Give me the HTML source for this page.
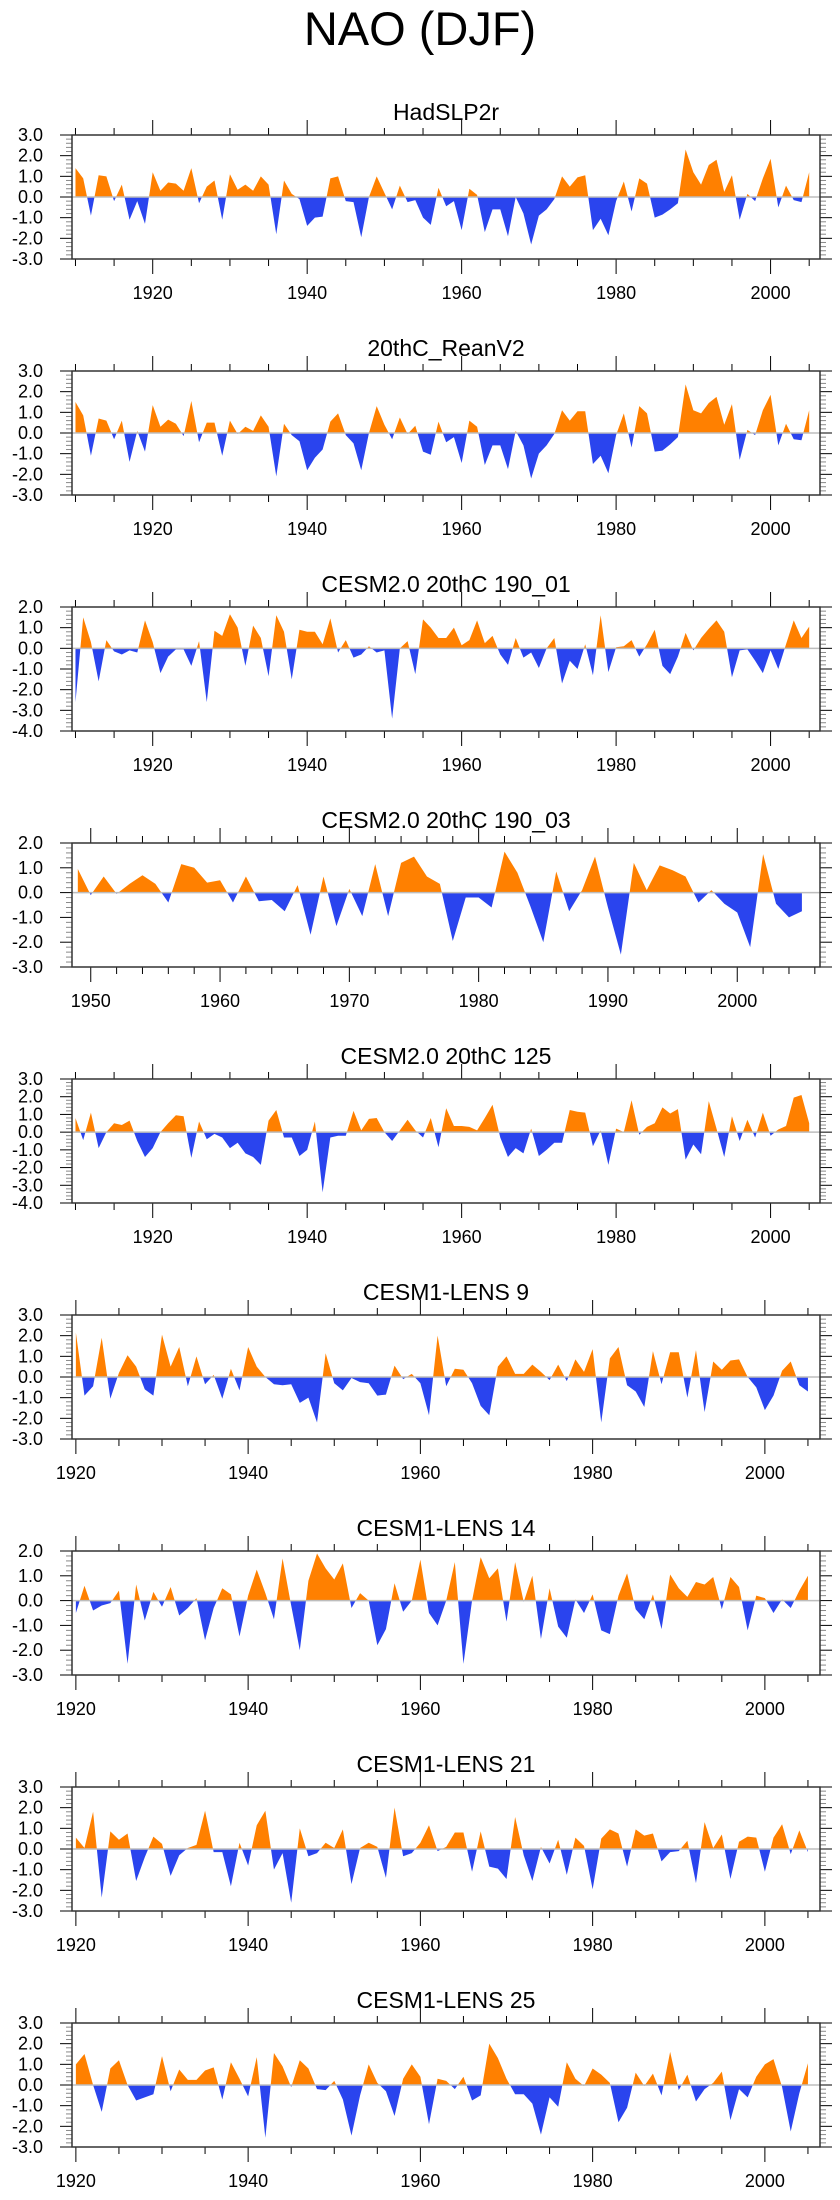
<!DOCTYPE html>
<html><head><meta charset="utf-8"><style>
html,body{margin:0;padding:0;background:#fff;}
svg{display:block;font-family:"Liberation Sans",sans-serif;}
</style></head><body>
<svg id="chart" width="840" height="2200" viewBox="0 0 840 2200" xmlns="http://www.w3.org/2000/svg">
<text x="420" y="45" font-size="47" text-anchor="middle" fill="#000">NAO (DJF)</text>
</svg>
<script>
const panelTitles = ["HadSLP2r","20thC_ReanV2","CESM2.0 20thC 190_01","CESM2.0 20thC 190_03","CESM2.0 20thC 125","CESM1-LENS 9","CESM1-LENS 14","CESM1-LENS 21","CESM1-LENS 25"];
const startYears = [1910,1910,1910,1949,1910,1920,1920,1920,1920];
const yMins = [-3,-3,-4,-3,-4,-3,-3,-3,-3];
const yMaxs = [3,3,2,2,3,3,2,3,3];
const s1 = [1.4,0.9,-0.9,1.05,1.0,-0.2,0.6,-1.1,-0.2,-1.3,1.2,0.3,0.7,0.65,0.3,1.4,-0.3,0.5,0.8,-1.1,1.1,0.35,0.6,0.3,1.0,0.6,-1.8,0.8,0.15,-0.1,-1.4,-1.0,-0.95,0.9,1.0,-0.2,-0.25,-1.95,0.0,1.0,0.2,-0.6,0.55,-0.25,-0.15,-1.0,-1.35,0.45,-0.45,-0.2,-1.6,0.4,0.1,-1.7,-0.6,-0.6,-1.9,0.0,-0.8,-2.3,-0.9,-0.6,-0.1,1.0,0.5,0.95,1.05,-1.6,-1.05,-1.85,-0.2,0.75,-0.7,0.9,0.65,-1.0,-0.85,-0.6,-0.3,2.3,1.2,0.6,1.55,1.8,0.25,1.05,-1.1,0.15,-0.2,0.9,1.85,-0.5,0.55,-0.15,-0.25,1.2];
const s2 = [1.5,0.85,-1.1,0.7,0.6,-0.3,0.6,-1.4,0.1,-0.9,1.35,0.3,0.65,0.45,-0.15,1.55,-0.45,0.5,0.5,-1.1,0.6,-0.05,0.3,0.1,0.85,0.3,-2.1,0.45,-0.1,-0.4,-1.8,-1.2,-0.8,0.55,0.95,-0.1,-0.5,-1.8,0.0,1.3,0.4,-0.3,0.75,-0.05,0.35,-0.9,-1.05,0.55,-0.45,-0.2,-1.45,0.6,0.3,-1.55,-0.6,-0.6,-1.75,0.1,-0.6,-2.2,-1.0,-0.6,-0.05,1.1,0.6,1.05,1.05,-1.5,-1.1,-1.95,-0.1,0.95,-0.7,1.3,0.95,-0.9,-0.85,-0.55,-0.2,2.35,1.1,0.95,1.45,1.75,0.4,1.4,-1.3,0.15,-0.1,1.1,1.85,-0.6,0.45,-0.3,-0.35,1.1];
const s3 = [-2.6,1.5,0.3,-1.6,0.4,-0.15,-0.3,-0.1,-0.2,1.35,0.3,-1.2,-0.4,-0.05,-0.05,-0.85,0.35,-2.6,0.85,0.6,1.65,1.0,-0.85,1.1,0.5,-1.35,1.6,0.8,-1.5,0.9,0.8,0.8,0.2,1.45,-0.2,0.4,-0.45,-0.3,0.1,-0.2,-0.1,-3.4,0.0,0.35,-1.25,1.4,1.0,0.5,0.5,1.0,0.15,0.4,1.35,0.25,0.6,-0.3,-0.8,0.5,-0.45,-0.2,-0.95,0.0,0.5,-1.7,-0.6,-1.0,0.2,-1.3,1.6,-1.15,0.05,0.1,0.4,-0.4,0.2,0.9,-0.85,-1.25,-0.4,0.75,-0.1,0.5,0.95,1.35,0.8,-1.4,-0.1,-0.05,-0.6,-1.2,-0.1,-1.0,0.2,1.35,0.5,1.05];
const s4 = [0.95,-0.1,0.65,-0.05,0.35,0.7,0.35,-0.4,1.15,1.0,0.4,0.5,-0.4,0.65,-0.35,-0.3,-0.75,0.3,-1.7,0.65,-1.35,0.15,-0.95,1.15,-0.95,1.2,1.45,0.65,0.35,-1.95,-0.2,-0.2,-0.6,1.65,0.8,-0.55,-2.0,0.85,-0.75,0.1,1.45,-0.6,-2.5,1.2,0.1,1.1,0.9,0.65,-0.4,0.1,-0.45,-0.8,-2.2,1.55,-0.45,-1.0,-0.75];
const s5 = [0.8,-0.45,1.1,-0.9,0.0,0.5,0.4,0.65,-0.5,-1.4,-0.9,0.0,0.5,0.95,0.9,-1.45,0.6,-0.4,-0.1,-0.3,-0.9,-0.6,-1.2,-1.4,-1.85,0.65,1.25,-0.3,-0.3,-1.35,-1.0,0.6,-3.4,-0.3,-0.2,-0.2,1.2,0.1,0.75,0.8,0.0,-0.5,0.1,0.7,0.1,-0.3,0.8,-0.85,1.35,0.35,0.35,0.3,0.1,0.8,1.55,-0.3,-1.4,-0.9,-1.2,0.2,-1.35,-1.0,-0.6,-0.6,1.25,1.15,1.1,-0.8,0.1,-1.85,0.2,0.0,1.8,-0.15,0.3,0.5,1.4,1.05,1.3,-1.55,-0.7,-1.25,1.75,0.2,-1.4,0.9,-0.5,0.7,-0.3,1.1,-0.2,0.15,0.35,1.95,2.1,0.5];
const s6 = [2.15,-0.9,-0.45,1.9,-1.05,0.2,1.05,0.5,-0.6,-0.9,2.05,0.5,1.45,-0.45,1.0,-0.35,0.1,-1.05,0.4,-0.65,1.45,0.5,0.0,-0.35,-0.4,-0.35,-1.25,-1.0,-2.2,1.15,-0.3,-0.65,-0.05,-0.25,-0.3,-0.9,-0.85,0.55,-0.1,0.15,-0.3,-1.85,2.0,-0.45,0.4,0.35,-0.3,-1.4,-1.85,0.5,1.0,0.15,0.15,0.6,0.25,-0.15,0.6,-0.2,0.85,0.25,1.35,-2.2,0.9,1.45,-0.4,-0.7,-1.45,1.25,-0.35,1.2,1.2,-1.0,1.3,-1.7,0.75,0.35,0.8,0.85,0.0,-0.5,-1.6,-0.9,0.3,0.75,-0.4,-0.7];
const s7 = [-0.5,0.6,-0.4,-0.2,-0.1,0.4,-2.55,0.65,-0.8,0.35,-0.25,0.55,-0.6,-0.3,0.1,-1.6,-0.3,0.5,0.25,-1.45,0.2,1.25,0.3,-0.75,1.7,-0.2,-2.0,0.8,1.9,1.3,0.85,1.5,-0.3,0.3,0.0,-1.8,-1.15,0.7,-0.45,0.0,1.65,-0.5,-1.0,0.0,1.55,-2.55,0.0,1.75,0.9,1.3,-0.85,1.55,-0.05,1.0,-1.55,0.5,-1.05,-1.5,0.05,-0.5,0.25,-1.2,-1.35,0.2,1.1,-0.35,-0.75,0.25,-1.15,1.05,0.5,0.15,0.75,0.65,0.95,-0.35,0.95,0.55,-1.2,0.2,0.1,-0.5,0.05,-0.3,0.4,1.0];
const s8 = [0.55,0.05,1.8,-2.35,0.85,0.45,0.75,-1.55,-0.4,0.6,0.25,-1.3,-0.3,0.05,0.2,1.85,-0.15,-0.15,-1.8,0.3,-0.8,1.15,1.85,-1.0,-0.2,-2.6,1.0,-0.35,-0.2,0.3,0.05,0.95,-1.7,0.05,0.3,0.1,-1.4,2.0,-0.35,-0.2,0.3,1.15,-0.1,0.1,0.8,0.8,-1.1,0.85,-0.85,-0.95,-1.45,1.55,-0.3,-1.55,0.1,-0.7,0.45,-1.25,0.55,0.15,-1.95,0.5,0.95,0.75,-0.85,0.95,0.65,0.75,-0.6,-0.15,-0.1,0.4,-1.65,1.3,0.05,0.7,-1.45,0.35,0.6,0.55,-1.1,0.55,1.2,-0.25,0.9,-0.15];
const s9 = [1.0,1.5,0.0,-1.3,0.8,1.2,0.0,-0.75,-0.6,-0.45,1.4,-0.3,0.75,0.25,0.25,0.7,0.85,-0.7,1.1,0.3,-0.55,1.35,-2.55,1.55,0.9,-0.1,1.2,0.8,-0.2,-0.25,0.2,-0.7,-2.45,-0.5,1.0,0.1,-0.3,-1.5,0.3,1.0,0.4,-1.9,0.3,0.2,-0.2,0.4,-0.75,-0.5,2.0,1.3,0.3,-0.45,-0.45,-0.9,-2.4,-0.6,-1.05,1.1,0.3,-0.05,0.8,0.5,0.1,-1.8,-1.1,0.6,-0.05,0.55,-0.5,1.6,-0.25,0.5,-0.8,-0.2,0.1,0.65,-1.7,-0.2,-0.6,0.4,1.0,1.25,-0.1,-2.25,-0.4,1.05];
const series = [s1,s2,s3,s4,s5,s6,s7,s8,s9];

const NS = "http://www.w3.org/2000/svg";
const svg = document.getElementById("chart");
function mk(tag, attrs, parent){ const e=document.createElementNS(NS,tag); for(const k in attrs) e.setAttribute(k,attrs[k]); (parent||svg).appendChild(e); return e; }

const X0=72, X1=820, H=124, TOP0=135, PITCH=236;
series.forEach((vals, p) => {
  const top = TOP0 + p*PITCH, bot = top + H;
  const first = startYears[p], last = first + vals.length - 1;
  const xmin = first - 0.45, xmax = last + 1.4;
  const ymin = yMins[p], ymax = yMaxs[p];
  const sx = yr => X0 + (yr - xmin) / (xmax - xmin) * (X1 - X0);
  const sy = v => bot - (v - ymin) / (ymax - ymin) * H;
  const g = mk("g", {});
  
  
  const t = mk("text", {x:446, y:top-15, "font-size":23, "text-anchor":"middle", fill:"#000"}, g);
  
  
  t.textContent = panelTitles[p];

  // build fill polygons
  const pts = [];
  for (let i=0;i<vals.length;i++){
    if (i>0 && vals[i-1]*vals[i] < 0){
      const f = vals[i-1]/(vals[i-1]-vals[i]);
      pts.push([first+i-1+f, 0]);
    }
    pts.push([first+i, vals[i]]);
  }
  const y0 = sy(0);
  function poly(sign){
    let d = "M" + sx(pts[0][0]).toFixed(2) + "," + y0.toFixed(2);
    pts.forEach(q => { const v = sign>0 ? Math.max(q[1],0) : Math.min(q[1],0); d += "L" + sx(q[0]).toFixed(2) + "," + sy(v).toFixed(2); });
    d += "L" + sx(pts[pts.length-1][0]).toFixed(2) + "," + y0.toFixed(2) + "Z";
    return d;
  }
  const pos = mk("path", {d:poly(1), fill:"#ff8000"}, g);
  
  
  const neg = mk("path", {d:poly(-1), fill:"#2a44ee"}, g);
  
  
  const zl = mk("line", {x1:X0, x2:X1, y1:y0, y2:y0, stroke:"#bdbdbd", "stroke-width":1.5}, g);
  
  

  // y ticks
  for (let v=ymin; v<=ymax+1e-6; v=Math.round((v+0.2)*10)/10){
    const major = Math.abs(v-Math.round(v))<1e-6;
    const L = major?12:6, y=sy(v);
    mk("line",{x1:X0-L,x2:X0,y1:y,y2:y,stroke:major?"#000":"#888","stroke-width":1},g);
    mk("line",{x1:X1,x2:X1+L,y1:y,y2:y,stroke:major?"#000":"#888","stroke-width":1},g);
    if (major){
      const lb = mk("text",{x:43,y:y+6,"font-size":18,"text-anchor":"end",fill:"#000"},g);
      
      
      lb.textContent = v.toFixed(1);
    }
  }
  // x ticks
  const majorStep = first===1949 ? 10 : 20, minorStep = first===1949 ? 2 : 5;
  for (let yr=Math.ceil(xmin/minorStep)*minorStep; yr<=xmax; yr+=minorStep){
    const major = yr % majorStep === 0, L = major?15:7, x=sx(yr);
    mk("line",{x1:x,x2:x,y1:bot,y2:bot+L,stroke:"#000","stroke-width":1},g);
    mk("line",{x1:x,x2:x,y1:top-L,y2:top,stroke:"#000","stroke-width":1},g);
    if (major){
      const lb = mk("text",{x:x,y:bot+40,"font-size":18,"text-anchor":"middle",fill:"#000"},g);
      
      
      lb.textContent = yr;
    }
  }
  const box = mk("rect",{x:X0,y:top,width:X1-X0,height:H,fill:"none",stroke:"#333","stroke-width":1.5},g);
  
  
});
</script>
</body></html>
